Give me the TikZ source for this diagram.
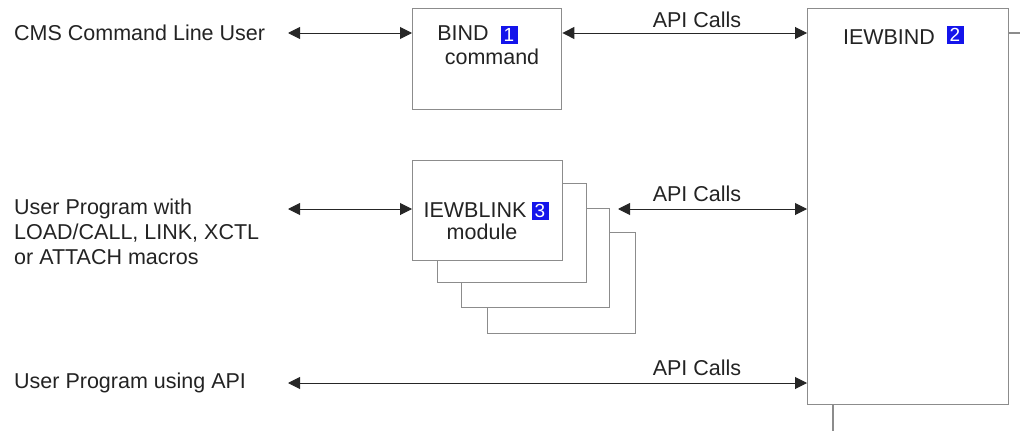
\documentclass[tikz,border=0pt]{standalone}
\usepackage{fontspec}
\setmainfont{Liberation Sans}
\usetikzlibrary{arrows.meta}
\definecolor{boxgray}{RGB}{140,140,140}
\definecolor{txtgray}{RGB}{35,35,35}
\definecolor{badgeblue}{RGB}{20,20,235}
\tikzset{
  box/.style={draw=boxgray, line width=1.4pt, fill=white, inner sep=0pt, anchor=north west},
  lbl/.style={text=txtgray, inner sep=0pt, font=\fontsize{21.5}{25}\selectfont},
  badge/.style={fill=badgeblue, text=white, inner sep=0pt, minimum width=17pt, minimum height=18pt, font=\fontsize{19}{19}\selectfont},
  arr/.style={draw=black!85, line width=1pt, {Triangle[length=12pt,width=12pt]}-{Triangle[length=12pt,width=12pt]}},
  gline/.style={draw=boxgray, line width=1.4pt}
}
\begin{document}
\begin{tikzpicture}[x=1pt,y=-1pt]
\useasboundingbox (0,0) rectangle (1020,431);
% boxes
\node[box, minimum width=201pt, minimum height=396pt] (iewbind) at (807,8) {};
\node[box, minimum width=149pt, minimum height=101pt] (bind) at (412,8) {};
\node[box, minimum width=148pt, minimum height=101pt] (m4) at (487,232) {};
\node[box, minimum width=148pt, minimum height=99pt] (m3) at (461,208) {};
\node[box, minimum width=149pt, minimum height=99pt] (m2) at (437,183) {};
\node[box, minimum width=150pt, minimum height=100pt] (m1) at (412,160) {};
% stubs on IEWBIND
\coordinate (tickend) at (1020,33);
\coordinate (stubend) at (833,431);
\draw[gline] (tickend -| iewbind.east) -- (tickend);
\draw[gline] (stubend |- iewbind.south) -- (stubend);
% texts in boxes
\node[lbl] (bindtxt) at (463,33) {BIND};
\node[badge] (b1) at (509,35) {1};
\node[lbl] (cmdtxt) at (492,57) {command};
\node[lbl] (iewbindtxt) at (889,37) {IEWBIND};
\node[badge] (b2) at (955,35) {2};
\node[lbl] (linktxt) at (475,210) {IEWBLINK};
\node[badge] (b3) at (540,211) {3};
\node[lbl] (modtxt) at (482,232) {module};
% left texts
\node[lbl, anchor=west] (cms) at (14,33) {CMS Command Line User};
\node[lbl, anchor=north west, align=left] (upw) at (14,199) {User Program with\\LOAD/CALL, LINK, XCTL\\or ATTACH macros};
\node[lbl, anchor=west] (upa) at (14,383) {User Program using API};
% connector start points
\coordinate (a1) at (288,33);
\coordinate (a2) at (288,209);
\coordinate (a3) at (288,383);
\coordinate (a4) at (618,209);
% arrows
\draw[arr] (a1) -- (a1 -| bind.west);
\draw[arr] (a2) -- (a2 -| m1.west);
\draw[arr] (a3) -- (a3 -| iewbind.west);
\draw[arr] (a1 -| bind.east) -- (a1 -| iewbind.west);
\draw[arr] (a4) -- (a4 -| iewbind.west);
% API labels
\node[lbl] (api1) at (697,20) {API Calls};
\node[lbl] (api2) at (697,194) {API Calls};
\node[lbl] (api3) at (697,368) {API Calls};
\end{tikzpicture}
\end{document}
